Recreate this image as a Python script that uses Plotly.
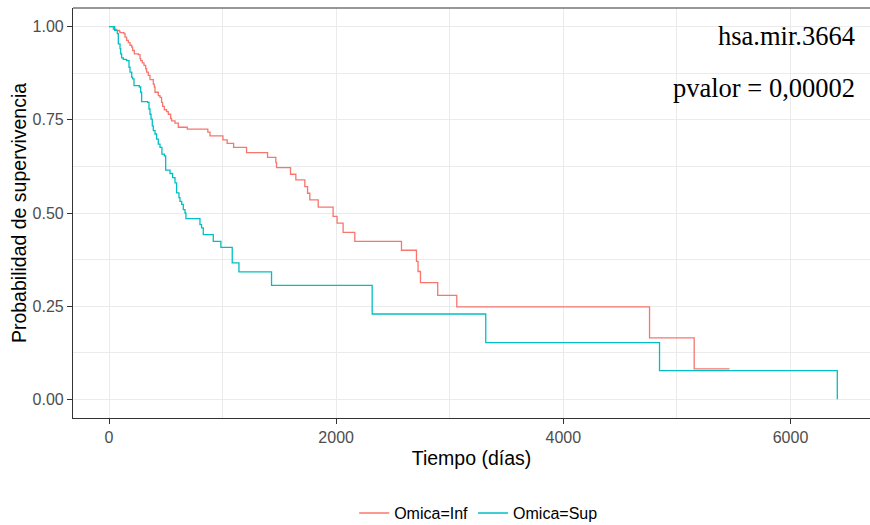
import plotly.graph_objects as go

# Kaplan-Meier step data
inf_time = [0, 38, 62, 91, 97, 132, 141, 155, 170, 185,
            200, 208, 223, 258, 273, 279, 293, 308, 323, 331,
            346, 361, 390, 399, 405, 434, 449, 463, 472, 487,
            507, 522, 543, 551, 581, 610, 689, 870, 889, 1003,
            1040, 1097, 1211, 1396, 1469, 1475, 1598, 1645, 1724, 1748,
            1768, 1842, 1973, 2008, 2061, 2164, 2575, 2707, 2721, 2742,
            2894, 3062, 4759, 5152, 5463]
inf_surv = [1.0, 0.993, 0.99, 0.987, 0.984, 0.981, 0.972, 0.963, 0.957, 0.95,
            0.945, 0.936, 0.927, 0.925, 0.914, 0.909, 0.903, 0.896, 0.887, 0.878,
            0.869, 0.858, 0.846, 0.838, 0.824, 0.815, 0.81, 0.797, 0.786, 0.777,
            0.772, 0.765, 0.754, 0.747, 0.741, 0.73, 0.725, 0.717, 0.707, 0.696,
            0.687, 0.676, 0.662, 0.649, 0.635, 0.622, 0.604, 0.589, 0.571, 0.553,
            0.535, 0.516, 0.491, 0.473, 0.448, 0.424, 0.4, 0.37, 0.343, 0.313,
            0.279, 0.248, 0.165, 0.082, 0.082]

sup_time = [0, 50, 73, 82, 97, 103, 111, 126, 155, 176,
            185, 200, 208, 220, 267, 279, 287, 340, 352, 361,
            370, 381, 390, 405, 419, 434, 449, 466, 487, 499,
            537, 560, 581, 595, 616, 625, 640, 654, 669, 677,
            801, 815, 830, 918, 985, 1085, 1144, 1431, 2317, 3317,
            4847, 6412]
sup_surv = [1.0, 0.99, 0.981, 0.954, 0.941, 0.927, 0.916, 0.912, 0.909, 0.891,
            0.878, 0.864, 0.86, 0.842, 0.838, 0.824, 0.799, 0.797, 0.779, 0.765,
            0.752, 0.734, 0.721, 0.712, 0.698, 0.685, 0.676, 0.658, 0.653, 0.615,
            0.606, 0.595, 0.581, 0.554, 0.541, 0.531, 0.523, 0.509, 0.5, 0.485,
            0.469, 0.46, 0.442, 0.424, 0.408, 0.366, 0.342, 0.306, 0.229, 0.152,
            0.077, 0.0]

series_names = ["Omica=Inf", "Omica=Sup"]
series_colors = ["#F8766D", "#00BFC4"]

x_ticks = [0, 2000, 4000, 6000]
y_ticks = [0, 0.25, 0.5, 0.75, 1.0]
y_ticklabels = ["0.00", "0.25", "0.50", "0.75", "1.00"]

fig = go.Figure()
for name, color, t, s in [(series_names[0], series_colors[0], inf_time, inf_surv),
                          (series_names[1], series_colors[1], sup_time, sup_surv)]:
    fig.add_trace(go.Scatter(x=t, y=s, mode="lines", name=name,
                             line=dict(color=color, width=1.3, shape="hv")))

grid = "#EBEBEB"
fig.update_layout(
    width=870, height=525,
    margin=dict(l=73, r=0, t=8, b=107, autoexpand=False),
    paper_bgcolor="white", plot_bgcolor="white",
    font=dict(family="Liberation Sans, Arial, sans-serif", color="black"),
    legend=dict(orientation="h", x=0.509, y=-0.232, xanchor="center", yanchor="middle",
                font=dict(size=16, color="black"), itemwidth=30),
    xaxis=dict(range=[-317, 6700], tickvals=x_ticks, ticktext=[str(v) for v in x_ticks],
               automargin=False,
               showgrid=True, gridcolor=grid, gridwidth=1.2,
               minor=dict(dtick=1000, tick0=0, showgrid=True, gridcolor=grid, gridwidth=0.6),
               showline=True, linecolor="#333333", linewidth=1.2, mirror=False,
               ticks="outside", ticklen=5, tickcolor="#333333", tickwidth=1.2,
               tickfont=dict(size=16, color="#4D4D4D"), zeroline=False,
               title=dict(text="Tiempo (días)", font=dict(size=19.5, color="black"), standoff=6)),
    yaxis=dict(range=[-0.05, 1.05], tickvals=y_ticks, ticktext=y_ticklabels,
               automargin=False,
               showgrid=True, gridcolor=grid, gridwidth=1.2,
               minor=dict(dtick=0.25, tick0=0.125, showgrid=True, gridcolor=grid, gridwidth=0.6),
               showline=True, linecolor="#333333", linewidth=1.2, mirror=False,
               ticks="outside", ticklen=5, tickcolor="#333333", tickwidth=1.2,
               tickfont=dict(size=16, color="#4D4D4D"), zeroline=False,
               title=dict(text="Probabilidad de supervivencia", font=dict(size=19.5, color="black"), standoff=0)),
    shapes=[dict(type="line", xref="paper", yref="paper", x0=0, x1=1, y0=1, y1=1,
                 line=dict(color="#333333", width=1.2))],
    annotations=[
        dict(text="hsa.mir.3664", xref="paper", yref="paper", x=0.984, y=0.9305,
             xanchor="right", yanchor="middle", showarrow=False,
             font=dict(family="Liberation Serif, Times New Roman, serif", size=26.5, color="black")),
        dict(text="pvalor = 0,00002", xref="paper", yref="paper", x=0.984, y=0.8037,
             xanchor="right", yanchor="middle", showarrow=False,
             font=dict(family="Liberation Serif, Times New Roman, serif", size=26.5, color="black")),
    ],
)

fig.write_html("out.html", config={"displayModeBar": False},
               post_script="document.body.style.margin='0';document.body.style.overflow='hidden';")
